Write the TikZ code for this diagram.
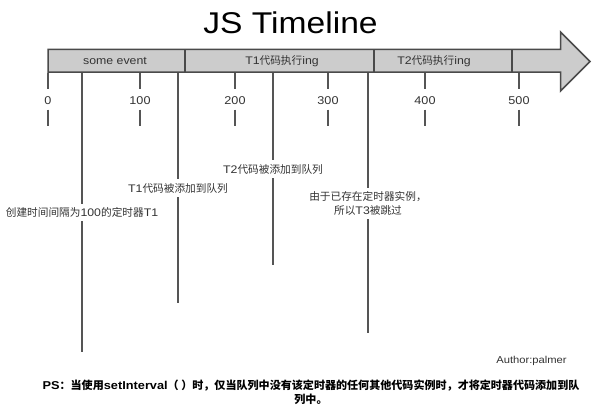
\documentclass[tikz,border=0pt]{standalone}
\usepackage{fontspec}
\setmainfont{Liberation Sans}[FakeStretch=1.12]
\newfontfamily\cjkf{Noto Sans CJK SC}[Scale=0.97]
\definecolor{barfill}{HTML}{CCCCCC}
\definecolor{outl}{HTML}{4A4A4A}
\definecolor{linec}{HTML}{555555}
\definecolor{txt}{HTML}{333333}
\begin{document}
\begin{tikzpicture}[x=1pt,y=-1pt,
  barshape/.style={draw=outl, fill=barfill, line width=1.5pt, line join=miter},
  divider/.style={draw=outl, line width=1.5pt},
  barlab/.style={font=\fontsize{11}{13}\selectfont, text=txt, inner sep=0pt},
  ticklab/.style={font=\fontsize{11.3}{13}\selectfont, text=txt, inner sep=0pt},
  tickline/.style={draw=linec, line width=1.8pt},
  vline/.style={draw=linec, line width=1.7pt},
  evlab/.style={font=\fontsize{11}{14}\selectfont, text=txt, fill=white, inner xsep=1pt, inner ysep=4pt, align=center},
  titlelab/.style={font=\fontsize{30}{34}\selectfont, text=black, inner sep=0pt},
  authorlab/.style={font=\fontsize{10}{12}\selectfont, text=txt, inner sep=0pt},
  pslab/.style={font=\fontsize{11.4}{14}\selectfont\bfseries, text=black, inner sep=0pt, align=center}
]
\useasboundingbox (0,0) rectangle (614,410);
\fill[white] (0,0) rectangle (614,410);

% title
\node[titlelab] (title) at (290.5,23) {JS Timeline};

% timeline arrow
\draw[barshape] (48,49.3) -- (560.5,49.3) -- (560.5,32) -- (590,61.5) -- (560.5,91) -- (560.5,72) -- (48,72) -- cycle;
\coordinate (d1t) at (185,49.3); \coordinate (d1b) at (185,72);
\coordinate (d2t) at (374,49.3); \coordinate (d2b) at (374,72);
\coordinate (d3t) at (512,49.3); \coordinate (d3b) at (512,72);
\draw[divider] (d1t) -- (d1b);
\draw[divider] (d2t) -- (d2b);
\draw[divider] (d3t) -- (d3b);

\node[barlab] (b1) at (115,61) {some event};
\node[barlab] (b2) at (282,61) {T1{\cjkf 代码执行}ing};
\node[barlab] (b3) at (434,61) {T2{\cjkf 代码执行}ing};

% event lines
\coordinate (e1t) at (82,72.8);  \coordinate (e1b) at (82,352);
\coordinate (e2t) at (178,72.8); \coordinate (e2b) at (178,303);
\coordinate (e3t) at (273,72.8); \coordinate (e3b) at (273,265);
\coordinate (e4t) at (368,72.8); \coordinate (e4b) at (368,333);

\draw[vline] (e1t) -- (e1b);
\draw[vline] (e2t) -- (e2b);
\draw[vline] (e3t) -- (e3b);
\draw[vline] (e4t) -- (e4b);

\node[evlab] (e1) at (82,212.5) {{\cjkf 创建时间间隔为}100{\cjkf 的定时器}T1};
\node[evlab] (e2) at (178,188) {T1{\cjkf 代码被添加到队列}};
\node[evlab] (e3) at (273,169) {T2{\cjkf 代码被添加到队列}};
\node[evlab] (e4) at (368,203.5) {{\cjkf 由于已存在定时器实例，}\\{\cjkf 所以}T3{\cjkf 被跳过}};

% ticks
\foreach \n/\xx/\lab in {0/48/0, 1/140/100, 2/235/200, 3/328/300, 4/425/400, 5/519/500}{
  \node[ticklab] (tl\n) at (\xx,100.5) {\lab};
  \coordinate (ta\n) at (\xx,72.8);
  \coordinate (tu\n) at (\xx,89);
  \coordinate (td\n) at (\xx,109.5);
  \coordinate (tb\n) at (\xx,126);
  \draw[tickline] (ta\n) -- (tu\n);
  \draw[tickline] (td\n) -- (tb\n);
}

% author and note
\node[authorlab] (author) at (531.5,361) {Author:palmer};
\node[pslab] (ps) at (311,392.5) {PS{\cjkf ：当使用}setInterval{\cjkf （ ）时，仅当队列中没有该定时器的任何其他代码实例时，才将定时器代码添加到队}\\{\cjkf 列中。}};
\end{tikzpicture}
\end{document}
